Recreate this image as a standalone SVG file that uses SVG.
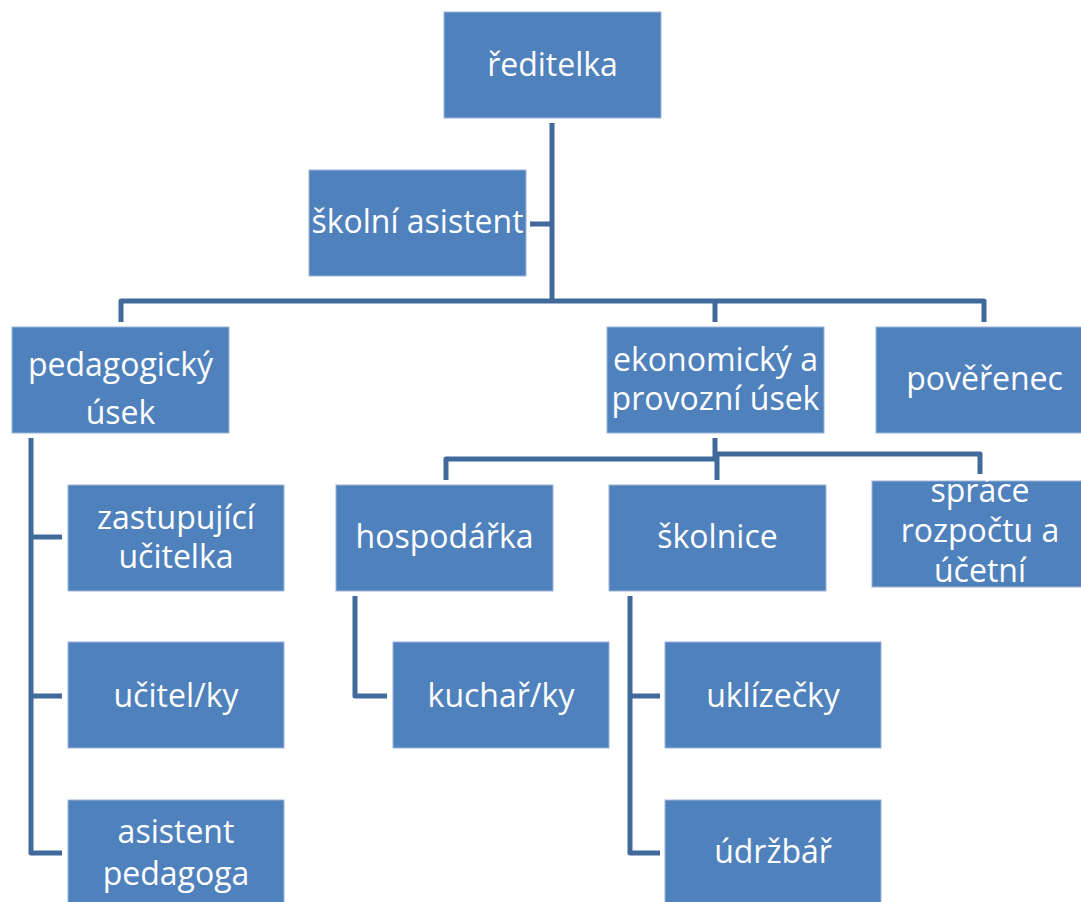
<svg xmlns="http://www.w3.org/2000/svg" width="1081" height="902" viewBox="0 0 1081 902">
<style>
.box{fill:#4F81BD;stroke:#9DB5D9;stroke-width:1}
.t{font-family:"Open Sans","Liberation Sans",sans-serif;font-size:32px;fill:#FFFFFF;text-anchor:middle}
.c{fill:none;stroke:#41699B;stroke-width:5;stroke-linejoin:round}
</style>
<rect width="1081" height="902" fill="#FFFFFF"/>
<g id="connectors">
<path class="c" d="M552 123 V301"/>
<path class="c" d="M530 224 H552"/>
<path class="c" d="M121 322 V301 H984 V322"/>
<path class="c" d="M715 301 V322"/>
<path class="c" d="M31 438 V853 H62"/>
<path class="c" d="M31 537 H62"/>
<path class="c" d="M31 696 H62"/>
<path class="c" d="M715 438 V459"/>
<path class="c" d="M446 480 V459 H717"/>
<path class="c" d="M717 480 V454 H980 V474"/>
<path class="c" d="M355 596 V696 H387"/>
<path class="c" d="M630 596 V853 H660"/>
<path class="c" d="M630 696 H660"/>
</g>
<g id="reditelka"><rect class="box" x="444" y="12" width="217" height="106"/><text class="t" x="552.5" y="76">ředitelka</text></g>
<g id="skolni-asistent"><rect class="box" x="309" y="170" width="217" height="106"/><text class="t" x="417.5" y="233">školní asistent</text></g>
<g id="pedagogicky-usek"><rect class="box" x="12" y="327" width="217" height="106"/><text class="t" x="120.5" y="376">pedagogický</text><text class="t" x="120.5" y="424">úsek</text></g>
<g id="ekonomicky-usek"><rect class="box" x="607" y="327" width="217" height="106"/><text class="t" x="715.5" y="371">ekonomický a</text><text class="t" x="715.5" y="410">provozní úsek</text></g>
<g id="poverenec"><rect class="box" x="876" y="327" width="217" height="106"/><text class="t" x="984.5" y="390">pověřenec</text></g>
<g id="zastupujici-ucitelka"><rect class="box" x="68" y="485" width="216" height="106"/><text class="t" x="176" y="529">zastupující</text><text class="t" x="176" y="568">učitelka</text></g>
<g id="ucitelky"><rect class="box" x="68" y="642" width="216" height="106"/><text class="t" x="176" y="707">učitel/ky</text></g>
<g id="asistent-pedagoga"><rect class="box" x="68" y="800" width="216" height="106"/><text class="t" x="176" y="843">asistent</text><text class="t" x="176" y="885">pedagoga</text></g>
<g id="hospodarka"><rect class="box" x="336" y="485" width="217" height="106"/><text class="t" x="444.5" y="548">hospodářka</text></g>
<g id="kucharky"><rect class="box" x="393" y="642" width="216" height="106"/><text class="t" x="501" y="707">kuchař/ky</text></g>
<g id="skolnice"><rect class="box" x="609" y="485" width="217" height="106"/><text class="t" x="717.5" y="548">školnice</text></g>
<g id="uklizecky"><rect class="box" x="665" y="642" width="216" height="106"/><text class="t" x="773" y="707">uklízečky</text></g>
<g id="udrzbar"><rect class="box" x="665" y="800" width="216" height="106"/><text class="t" x="773" y="863">údržbář</text></g>
<g id="sprace-rozpoctu"><rect class="box" x="872" y="481" width="217" height="106"/><text class="t" x="980" y="502">spráce</text><text class="t" x="980" y="542">rozpočtu a</text><text class="t" x="980" y="582">účetní</text></g>
</svg>
